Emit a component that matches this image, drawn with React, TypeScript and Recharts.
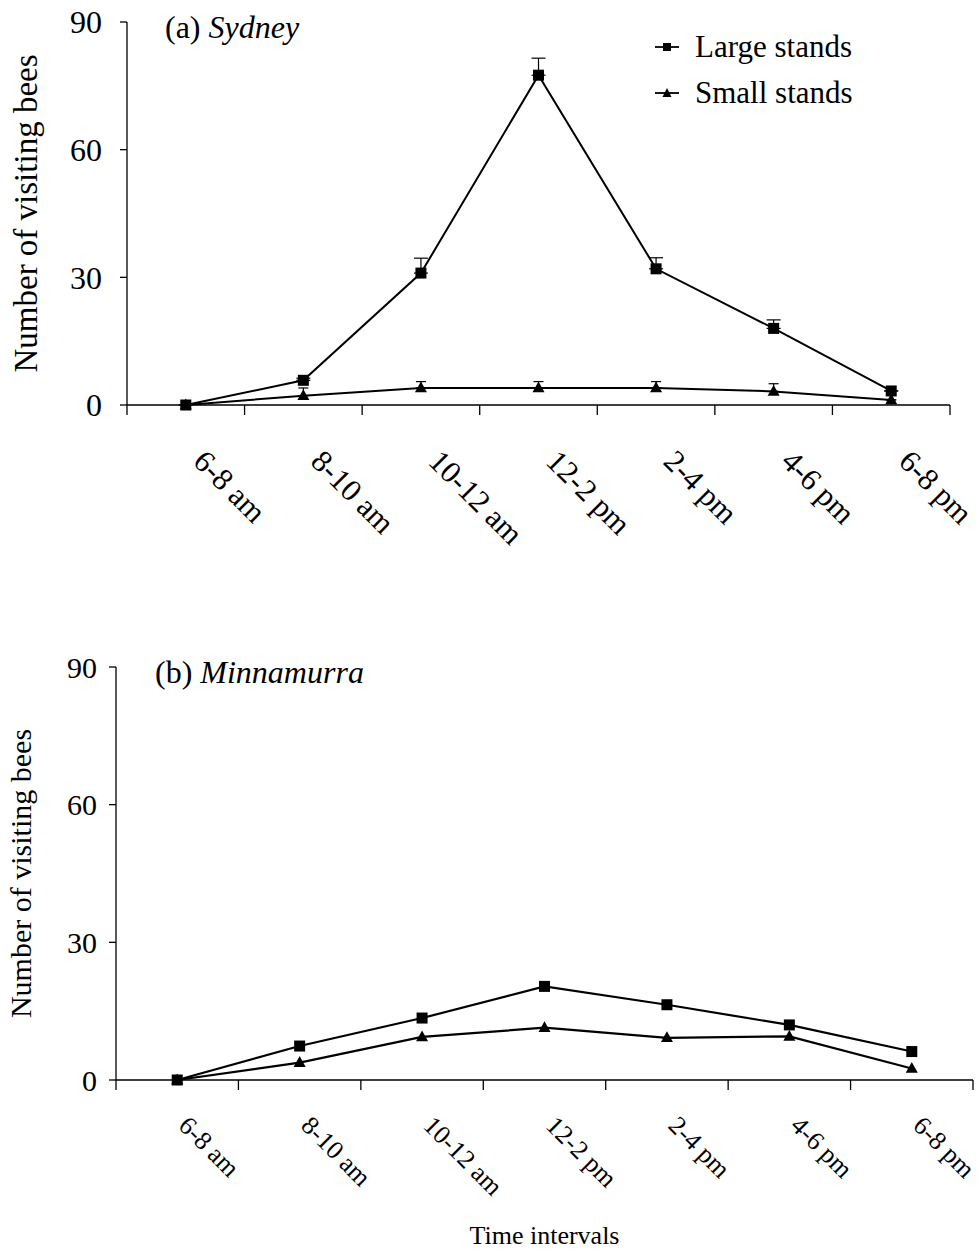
import React from 'react';
import { LineChart, Line, XAxis, YAxis, ErrorBar, Legend, Customized } from 'recharts';

const categories = ['6-8 am', '8-10 am', '10-12 am', '12-2 pm', '2-4 pm', '4-6 pm', '6-8 pm'];
const sydneyLarge = [0, 5.8, 31, 77.5, 32, 18, 3.3];
const sydneyLargeErr = [0, 0.5, 3.5, 4, 2.6, 2, 0];
const sydneySmall = [0, 2.2, 4, 4, 4, 3.2, 1.2];
const sydneySmallErr = [0, 1.8, 1.5, 1.5, 1.5, 1.8, 0];
const minnamurraLarge = [0, 7.4, 13.5, 20.4, 16.4, 12, 6.2];
const minnamurraSmall = [0, 3.8, 9.4, 11.4, 9.2, 9.5, 2.5];
const yTicks = [0, 30, 60, 90];
const seriesNames = ['Large stands', 'Small stands'];

const FONT = "'Liberation Serif', 'Times New Roman', serif";

const sydneyData = categories.map((c, i) => ({
  time: c,
  large: sydneyLarge[i],
  largeErr: [0, sydneyLargeErr[i]],
  small: sydneySmall[i],
  smallErr: [0, sydneySmallErr[i]],
}));

const minnamurraData = categories.map((c, i) => ({
  time: c,
  large: minnamurraLarge[i],
  small: minnamurraSmall[i],
}));

const squareDot = (size: number, tag: string) => (props: any) => {
  const { cx, cy, index } = props;
  if (cx == null || cy == null) return <g key={`${tag}-${index}`} />;
  return <rect key={`${tag}-${index}`} x={cx - size / 2} y={cy - size / 2} width={size} height={size} fill="#000" />;
};

const triangleDot = (size: number, tag: string) => (props: any) => {
  const { cx, cy, index } = props;
  if (cx == null || cy == null) return <g key={`${tag}-${index}`} />;
  const h = size * 0.9;
  return (
    <polygon
      key={`${tag}-${index}`}
      points={`${cx},${cy - h * 0.6} ${cx - size / 2},${cy + h * 0.4} ${cx + size / 2},${cy + h * 0.4}`}
      fill="#000"
    />
  );
};

const makeTick = (band: number, fontSize: number, dx: number, dy: number, tickLen: number) => (props: any) => {
  const { x, y, payload, index } = props;
  const left = x - band / 2;
  const right = x + band / 2;
  const tx = x + dx;
  const ty = y + dy;
  return (
    <g>
      <line x1={left} y1={y} x2={left} y2={y + tickLen} stroke="#000" strokeWidth={1.3} />
      {index === categories.length - 1 && (
        <line x1={right} y1={y} x2={right} y2={y + tickLen} stroke="#000" strokeWidth={1.3} />
      )}
      <text x={tx} y={ty} transform={`rotate(45, ${tx}, ${ty})`} fontSize={fontSize} fontFamily={FONT} fill="#000" textAnchor="start">
        {payload.value}
      </text>
    </g>
  );
};

const LegendContent = () => (
  <div style={{ fontFamily: FONT, fontSize: 31, lineHeight: '46px', color: '#000' }}>
    {seriesNames.map((n, i) => (
      <div key={n} style={{ display: 'flex', alignItems: 'center', whiteSpace: 'nowrap' }}>
        <svg width={24} height={14} style={{ marginRight: 16 }}>
          <line x1={0} y1={7} x2={24} y2={7} stroke="#000" strokeWidth={1.8} />
          {i === 0 ? (
            <rect x={8} y={3} width={8} height={8} fill="#000" />
          ) : (
            <polygon points="12,2 7.5,11 16.5,11" fill="#000" />
          )}
        </svg>
        <span>{n}</span>
      </div>
    ))}
  </div>
);

const TitleA = () => (
  <text x={165} y={38} fontSize={32} fontFamily={FONT} fill="#000">
    <tspan>(a) </tspan>
    <tspan fontStyle="italic">Sydney</tspan>
  </text>
);

const TitleB = () => (
  <text x={155} y={43} fontSize={32} fontFamily={FONT} fill="#000">
    <tspan>(b) </tspan>
    <tspan fontStyle="italic">Minnamurra</tspan>
  </text>
);

const axisStyle = { stroke: '#000', strokeWidth: 1.3 };

export default function App() {
  const bandA = (950 - 127) / categories.length;
  const bandB = (973 - 116) / categories.length;
  return (
    <div style={{ position: 'fixed', left: 0, top: 0, width: 980, height: 1253, background: '#fff', overflow: 'hidden' }}>
      <div style={{ position: 'absolute', left: 0, top: 0 }}>
        <LineChart width={980} height={600} data={sydneyData} margin={{ top: 22, right: 30, left: 0, bottom: 0 }}>
          <XAxis
            dataKey="time"
            scale="band"
            interval={0}
            height={195}
            axisLine={axisStyle}
            tickLine={false}
            tickSize={0}
            tickMargin={0}
            tick={makeTick(bandA, 31, 6, 58, 10)}
          />
          <YAxis
            domain={[0, 90]}
            ticks={yTicks}
            width={127}
            tickSize={7}
            tickMargin={18}
            axisLine={axisStyle}
            tickLine={axisStyle}
            tick={{ fill: '#000', fontSize: 32, fontFamily: FONT }}
            label={{
              value: 'Number of visiting bees',
              angle: -90,
              position: 'insideLeft',
              offset: 25,
              style: { textAnchor: 'middle', fontSize: 33, fontFamily: FONT, fill: '#000' },
            }}
          />
          <Line
            type="linear"
            dataKey="large"
            name={seriesNames[0]}
            stroke="#000"
            strokeWidth={2}
            dot={squareDot(11, 'al')}
            activeDot={false}
            isAnimationActive={false}
          >
            <ErrorBar dataKey="largeErr" width={7} stroke="#000" strokeWidth={1.2} direction="y" />
          </Line>
          <Line
            type="linear"
            dataKey="small"
            name={seriesNames[1]}
            stroke="#000"
            strokeWidth={2}
            dot={triangleDot(12, 'as')}
            activeDot={false}
            isAnimationActive={false}
          >
            <ErrorBar dataKey="smallErr" width={5} stroke="#000" strokeWidth={1.2} direction="y" />
          </Line>
          <Legend
            layout="vertical"
            align="center"
            verticalAlign="middle"
            content={<LegendContent />}
            wrapperStyle={{ left: 655, top: 24, width: 'auto' }}
          />
          <Customized component={TitleA} />
        </LineChart>
      </div>
      <div style={{ position: 'absolute', left: 0, top: 640 }}>
        <LineChart width={980} height={613} data={minnamurraData} margin={{ top: 27, right: 7, left: 0, bottom: 0 }}>
          <XAxis
            dataKey="time"
            scale="band"
            interval={0}
            height={173}
            axisLine={axisStyle}
            tickLine={false}
            tickSize={0}
            tickMargin={0}
            tick={makeTick(bandB, 26, 0, 47, 10)}
            label={{
              value: 'Time intervals',
              position: 'insideBottom',
              offset: 9,
              style: { fontSize: 26, fontFamily: FONT, fill: '#000' },
            }}
          />
          <YAxis
            domain={[0, 90]}
            ticks={yTicks}
            width={116}
            tickSize={7}
            tickMargin={12}
            axisLine={axisStyle}
            tickLine={axisStyle}
            tick={{ fill: '#000', fontSize: 30, fontFamily: FONT }}
            label={{
              value: 'Number of visiting bees',
              angle: -90,
              position: 'insideLeft',
              offset: 20,
              style: { textAnchor: 'middle', fontSize: 30, fontFamily: FONT, fill: '#000' },
            }}
          />
          <Line
            type="linear"
            dataKey="large"
            name={seriesNames[0]}
            stroke="#000"
            strokeWidth={2.2}
            dot={squareDot(11, 'bl')}
            activeDot={false}
            isAnimationActive={false}
          />
          <Line
            type="linear"
            dataKey="small"
            name={seriesNames[1]}
            stroke="#000"
            strokeWidth={2.2}
            dot={triangleDot(12, 'bs')}
            activeDot={false}
            isAnimationActive={false}
          />
          <Customized component={TitleB} />
        </LineChart>
      </div>
    </div>
  );
}
